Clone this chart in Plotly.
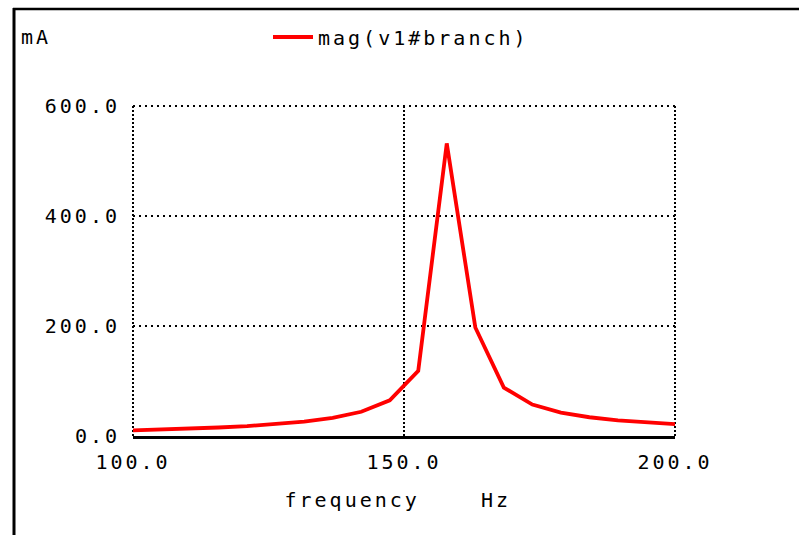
import plotly.graph_objects as go

# Frequency sweep (Hz) and current magnitude (mA)
frequency = [100.0, 105.26, 110.53, 115.79, 121.05, 126.32, 131.58, 136.84, 142.11, 147.37,
             152.63, 157.89, 163.16, 168.42, 173.68, 178.95, 184.21, 189.47, 194.74, 200.0]
current_ma = [10.4, 11.8, 13.4, 15.5, 18.0, 21.4, 26.1, 33.0, 44.0, 64.8,
              118.5, 532.0, 197.3, 88.0, 57.1, 42.5, 34.1, 28.5, 24.6, 21.7]
x_ticks = [100, 150, 200]
x_tick_labels = ["100.0", "150.0", "200.0"]
y_ticks = [0, 200, 400, 600]
y_tick_labels = ["0.0", "200.0", "400.0", "600.0"]
series_name = "mag(v1#branch)"

FONT = "DejaVu Sans Mono"
W, H = 799, 535
L, R, T, B = 133, 124, 106, 99
PW, PH = W - L - R, H - T - B
X_RANGE = [x_ticks[0], x_ticks[-1]]
Y_RANGE = [y_ticks[0], y_ticks[-1]]


def px(xp):
    return (xp - L) / PW


def py(yp):
    return (H - B - yp) / PH


def xfrac(v):
    return (v - X_RANGE[0]) / (X_RANGE[1] - X_RANGE[0])


def yfrac(v):
    return (v - Y_RANGE[0]) / (Y_RANGE[1] - Y_RANGE[0])


fig = go.Figure()
fig.add_trace(go.Scatter(
    x=frequency, y=current_ma, mode="lines", name=series_name,
    line=dict(color="#ff0000", width=3.8), showlegend=True,
))

VDASH = "2px,2px"
HDASH = "2px,4px"

shapes = [
    # outer frame (top and left)
    dict(type="line", xref="paper", yref="paper", x0=px(13), x1=px(W + 5),
         y0=py(9), y1=py(9), line=dict(color="black", width=2.5)),
    dict(type="line", xref="paper", yref="paper", x0=px(14), x1=px(14),
         y0=py(8), y1=py(H + 5), line=dict(color="black", width=3)),
]
# grid lines on the plot edges (Plotly omits these); paper refs avoid clipping
for v in (x_ticks[0], x_ticks[-1]):
    shapes.append(dict(type="line", xref="paper", yref="paper", x0=xfrac(v), x1=xfrac(v),
                       y0=0, y1=1, line=dict(color="black", width=2, dash=VDASH),
                       layer="below"))
shapes.append(dict(type="line", xref="paper", yref="paper", x0=0, x1=1,
                   y0=yfrac(y_ticks[-1]), y1=yfrac(y_ticks[-1]),
                   line=dict(color="black", width=2, dash=HDASH), layer="below"))

fig.update_layout(
    width=W, height=H,
    margin=dict(l=L, r=R, t=T, b=B, pad=0),
    paper_bgcolor="white", plot_bgcolor="rgba(0,0,0,0)",
    font=dict(family=FONT, size=20, color="black"),
    showlegend=True,
    legend=dict(
        orientation="h", x=px(268), xanchor="left", y=py(37), yanchor="middle",
        bgcolor="rgba(0,0,0,0)", borderwidth=0, itemwidth=40,
        entrywidth=300, entrywidthmode="pixels",
        font=dict(family=FONT, size=20, color="black"),
    ),
    xaxis=dict(
        range=X_RANGE, tickmode="array", tickvals=x_ticks, ticktext=x_tick_labels,
        showgrid=True, gridcolor="black", gridwidth=2, griddash=VDASH,
        zeroline=False, showline=True, linecolor="black", linewidth=3,
        ticks="", ticklabelstandoff=6,
    ),
    yaxis=dict(
        range=Y_RANGE, tickmode="array", tickvals=y_ticks, ticktext=y_tick_labels,
        showgrid=True, gridcolor="black", gridwidth=2, griddash=HDASH,
        zeroline=False, showline=False, ticks="", ticklabelstandoff=12,
    ),
    annotations=[
        dict(text="mA", xref="paper", yref="paper", x=px(22), y=py(37),
             xanchor="left", yanchor="middle", showarrow=False),
        dict(text="frequency", xref="paper", yref="paper", x=px(352), y=py(500),
             xanchor="center", yanchor="middle", showarrow=False),
        dict(text="Hz", xref="paper", yref="paper", x=px(496), y=py(500),
             xanchor="center", yanchor="middle", showarrow=False),
    ],
    shapes=shapes,
)

post = ("document.body.style.margin='0';"
        "var gd=document.getElementById('{plot_id}');"
        "if(gd){gd.style.letterSpacing='3px';}")
fig.write_html("out.html", post_script=post, config={"displayModeBar": False})
